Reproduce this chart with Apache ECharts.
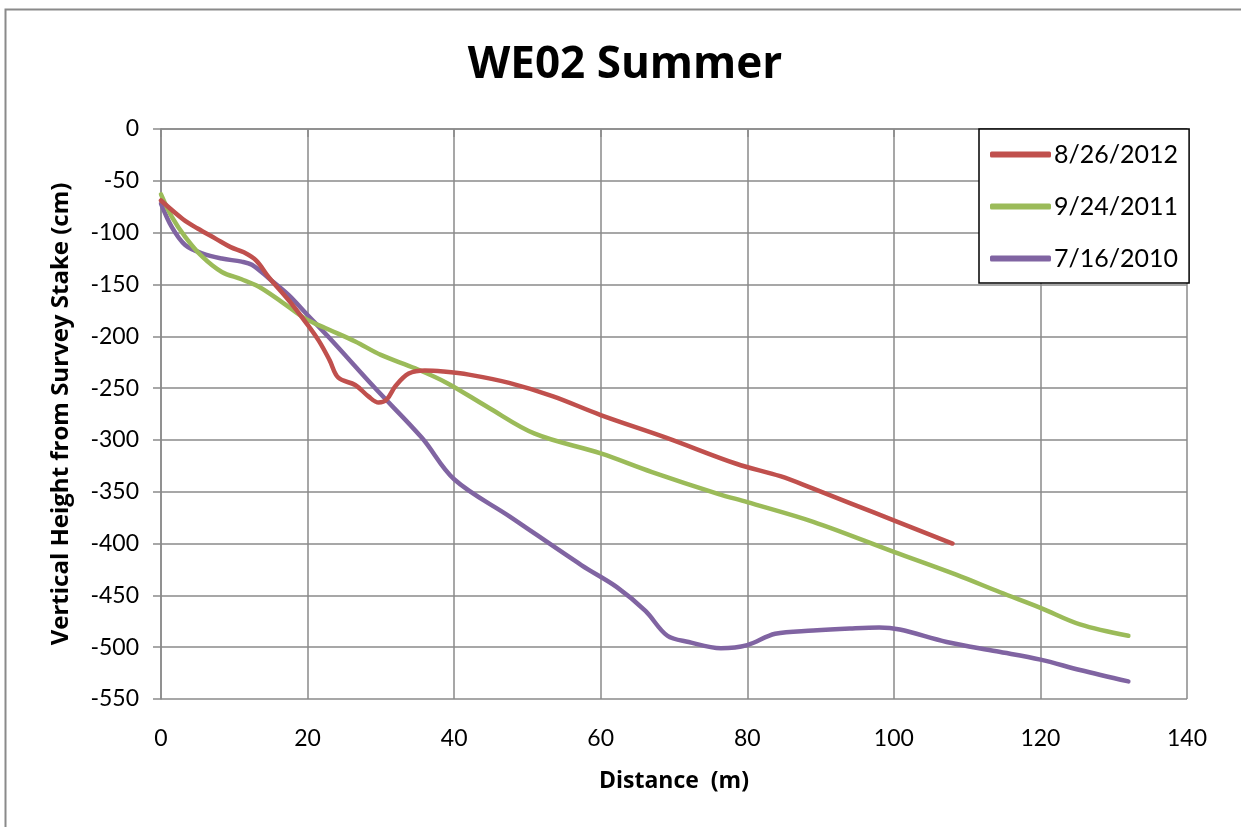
<!DOCTYPE html>
<html>
<head>
<meta charset="utf-8">
<script src="https://cdn.jsdelivr.net/npm/echarts@6/dist/echarts.min.js"></script>
<style>
html,body{margin:0;padding:0;background:#fff;}
#chart{width:1241px;height:827px;}
</style>
</head>
<body>
<div id="chart"></div>
<script>
const titleText = "WE02 Summer";
const xAxisName = "Distance  (m)";
const yAxisName = "Vertical Height from Survey Stake (cm)";
const seriesNames = ["8/26/2012", "9/24/2011", "7/16/2010"];
const seriesColors = ["#C0504D", "#9BBB59", "#8064A2"];

const dist2012 = [0, 3, 5, 7.5, 9.5, 11.3, 13, 14.7, 17.4, 19.8, 21.5, 23, 24.2, 26.5, 28.3, 29.7, 30.8, 32, 33.8, 36, 38.5, 42, 47.5, 53.5, 60, 69, 78.5, 84.5, 89, 94, 100.5, 108];
const height2012 = [-69, -87, -96, -106, -114, -119, -127, -143, -165, -187, -204, -223, -240, -247, -258, -264, -261, -248, -236, -233, -234, -237, -245, -258, -276, -298, -323, -335, -347, -361, -379, -400];

const dist2011 = [0, 1.5, 3.3, 5.6, 8.3, 11, 13.3, 16.5, 19.7, 22.4, 26.5, 30, 34.7, 39, 44.5, 51, 60, 67, 76, 80, 89, 100, 108.5, 114.5, 120, 125.4, 132];
const height2011 = [-63, -85, -104, -123, -138, -145, -152, -167, -183, -192, -205, -218, -231, -245, -268, -294, -313, -331, -352, -360, -379, -408, -430, -447, -462, -478, -489];

const dist2010 = [0, 1.5, 3.3, 5.6, 8.3, 11, 12.4, 14.7, 17.4, 19.8, 22.9, 29.2, 35.6, 40, 47.6, 57.4, 62.2, 66.1, 69.1, 72, 76.4, 80, 83.8, 89, 94, 98, 100.8, 107.2, 114, 120, 125.4, 132];
const height2010 = [-72, -95, -112, -120, -125, -128, -131, -144, -160, -178, -201, -250, -298, -338, -374, -421, -442, -465, -489, -495, -501, -498, -487, -484, -482, -481, -483, -495, -504, -512, -522, -533];

const xTicks = {min: 0, max: 140, interval: 20};
const yTicks = {min: -550, max: 0, interval: 50};

function pairs(xs, ys) { return xs.map((x, i) => [x, ys[i]]); }

const FONT = "Lato";
const BOLDFONT = "Open Sans";
const GRID = "#8a8a8a";

const chart = echarts.init(document.getElementById('chart'), null, {renderer: 'canvas'});
const dataSets = [pairs(dist2012, height2012), pairs(dist2011, height2011), pairs(dist2010, height2010)];

chart.setOption({
  animation: false,
  backgroundColor: '#fff',
  title: {
    text: titleText,
    left: 620, top: 38, textAlign: 'center',
    textStyle: {fontFamily: BOLDFONT, fontWeight: 'bold', fontSize: 44, color: '#000'}
  },
  grid: {left: 161, top: 129, right: 54, bottom: 128, containLabel: false},
  legend: {
    orient: 'vertical',
    left: 979, top: 129,
    padding: [13, 11, 12, 11],
    itemGap: 27,
    itemWidth: 61, itemHeight: 6,
    icon: 'roundRect',
    backgroundColor: '#fff',
    borderColor: '#000', borderWidth: 1.5,
    textStyle: {fontFamily: FONT, fontSize: 25, color: '#000', padding: [0, 0, 0, -2]},
    data: seriesNames
  },
  xAxis: {
    type: 'value', min: xTicks.min, max: xTicks.max, interval: xTicks.interval,
    name: xAxisName, nameLocation: 'middle', nameGap: 71,
    nameTextStyle: {fontFamily: BOLDFONT, fontWeight: 'bold', fontSize: 23, color: '#000'},
    axisLine: {show: true, lineStyle: {color: GRID, width: 1.5}},
    axisTick: {show: true, length: 8, lineStyle: {color: GRID, width: 1.5}},
    axisLabel: {fontFamily: FONT, fontSize: 23, color: '#000', margin: 28},
    splitLine: {show: true, lineStyle: {color: GRID, width: 1.5}}
  },
  yAxis: {
    type: 'value', min: yTicks.min, max: yTicks.max, interval: yTicks.interval,
    name: yAxisName, nameLocation: 'middle', nameGap: 88, nameRotate: 90,
    nameTextStyle: {fontFamily: BOLDFONT, fontWeight: 'bold', fontSize: 24, color: '#000'},
    axisLine: {show: true, onZero: false, lineStyle: {color: GRID, width: 1.5}},
    axisTick: {show: true, length: 8, lineStyle: {color: GRID, width: 1.5}},
    axisLabel: {fontFamily: FONT, fontSize: 23, color: '#000', margin: 22},
    splitLine: {show: true, lineStyle: {color: GRID, width: 1.5}}
  },
  graphic: [{
    type: 'polyline',
    shape: {points: [[5.5, 827], [5.5, 9.5], [1241, 9.5]]},
    style: {stroke: '#8a8a8a', lineWidth: 2, fill: null},
    silent: true
  }],
  series: seriesNames.map((name, i) => ({
    name: name,
    type: 'line',
    data: dataSets[i],
    smooth: 0.35,
    showSymbol: false,
    symbol: 'none',
    color: seriesColors[i],
    lineStyle: {color: seriesColors[i], width: 4.5, cap: 'round', join: 'round'},
    z: 3 + (2 - i)
  }))
});
</script>
</body>
</html>
